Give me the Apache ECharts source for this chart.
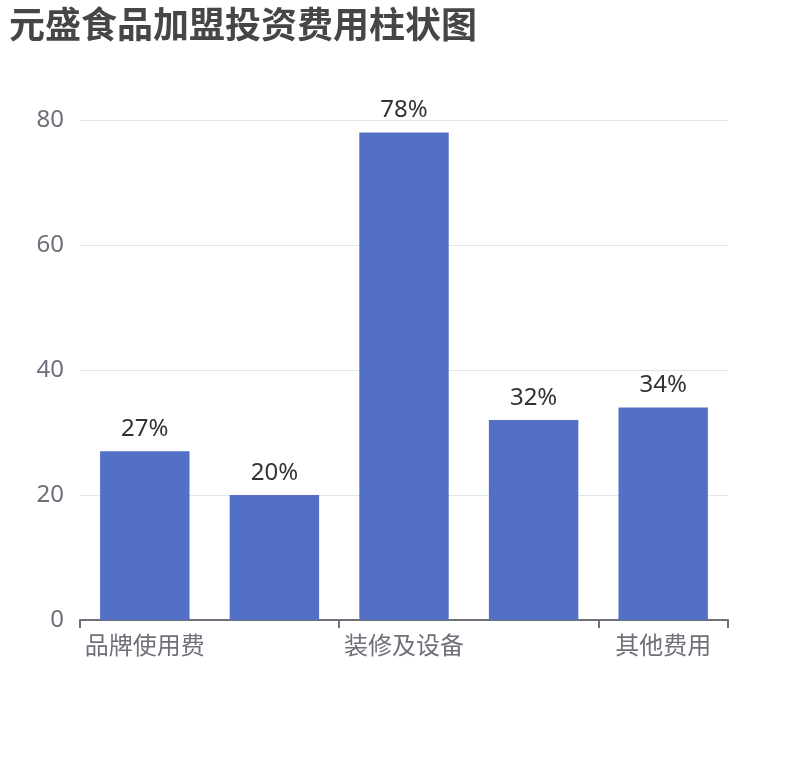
<!DOCTYPE html>
<html>
<head>
<meta charset="utf-8">
<script src="https://cdn.jsdelivr.net/npm/echarts@6/dist/echarts.min.js"></script>
<style>html,body{margin:0;padding:0;background:#fff}#main{width:810px;height:760px}</style>
</head>
<body>
<div id="main"></div>
<script>
const titleText = '元盛食品加盟投资费用柱状图';
const categories = ['品牌使用费', '加盟保证金', '装修及设备', '首批进货费', '其他费用'];
const values = [27, 20, 78, 32, 34];
const yTicks = [0, 20, 40, 60, 80];

const chart = echarts.init(document.getElementById('main'));
chart.setOption({
  animation: false,
  title: {
    text: titleText,
    left: 4,
    top: 1,
    textStyle: { fontSize: 36, fontWeight: 'bold', color: '#464646', fontFamily: 'Noto Sans CJK SC' }
  },
  grid: { left: 80, right: 82, top: 120, bottom: 140, containLabel: false },
  xAxis: {
    type: 'category',
    data: categories,
    axisLabel: { interval: 1, fontSize: 24, color: '#6e7079', margin: 13, fontFamily: 'Noto Sans CJK SC' },
    axisTick: { show: true, interval: 1, length: 8, lineStyle: { color: '#6e7079', width: 2 } },
    axisLine: { lineStyle: { color: '#6e7079', width: 2 } }
  },
  yAxis: {
    type: 'value',
    min: yTicks[0],
    max: yTicks[yTicks.length - 1],
    interval: 20,
    axisLabel: { fontSize: 24, color: '#6e7079', margin: 16, fontFamily: 'Noto Sans' },
    splitLine: { lineStyle: { color: '#e0e6f1' } }
  },
  series: [{
    type: 'bar',
    data: values,
    barWidth: '69%',
    itemStyle: { color: '#5470c6' },
    label: {
      show: true,
      position: 'top',
      distance: 10,
      formatter: '{c}%',
      fontSize: 24,
      color: '#333',
      fontFamily: 'Noto Sans'
    }
  }]
});
</script>
</body>
</html>
